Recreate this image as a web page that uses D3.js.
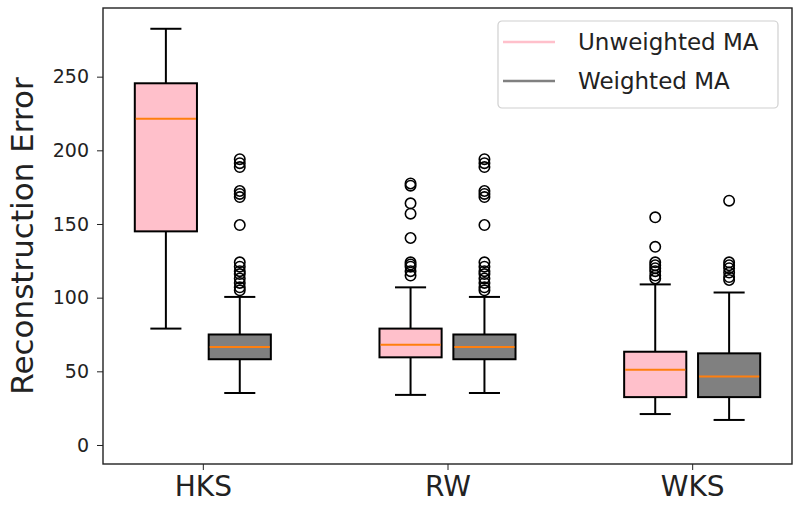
<!DOCTYPE html>
<html>
<head>
<meta charset="utf-8">
<script src="https://cdn.jsdelivr.net/npm/d3@7"></script>
<style>
  body { margin: 0; background: #fff; }
  text { font-family: 'DejaVu Sans', sans-serif; fill: #222; }
</style>
</head>
<body>
<div id="chart"></div>
<script>
const width = 800;
const height = 511;

const categories = ['HKS', 'RW', 'WKS'];
const seriesNames = ['Unweighted MA', 'Weighted MA'];
const seriesColors = ['#ffc0cb', '#808080'];
const yTicks = [0, 50, 100, 150, 200, 250];

// box stats per category: [whiskerLow, q1, median, q3, whiskerHigh]
const unweightedStats = [
  [79, 145, 221.5, 245.5, 282.5],
  [34, 59.5, 68, 79, 107],
  [21, 32.5, 51, 63.3, 109],
];
const weightedStats = [
  [35.3, 58.2, 66.5, 75, 100.5],
  [35.3, 58.2, 66.5, 75, 100.5],
  [17, 32.5, 46.5, 62.2, 103.5],
];
const unweightedOutliers = [
  [],
  [177.5, 176, 164, 157, 140.5, 124, 122.5, 121, 118, 115],
  [154.5, 134.5, 124, 122, 120, 118, 115, 113],
];
const weightedOutliers = [
  [194, 191.3, 188.6, 172.4, 170.4, 168.3, 149.3, 124, 121, 118, 116, 113, 110, 107, 105],
  [194, 191.3, 188.6, 172.4, 170.4, 168.3, 149.3, 124, 121, 118, 116, 113, 110, 107, 105],
  [165.8, 124, 122, 120, 117, 114, 112],
];

const margin = {top: 8, right: 8, bottom: 47, left: 103};

const x = d3.scaleLinear()
  .domain([0.592, 3.408])
  .range([margin.left, width - margin.right]);
const y = d3.scaleLinear()
  .domain([-12.9, 296.6])
  .range([height - margin.bottom, margin.top]);

const offset = 0.151;
const boxW = x(0.254) - x(0);

const svg = d3.select('#chart').append('svg')
  .attr('width', width)
  .attr('height', height);

const series = [
  {name: seriesNames[0], color: seriesColors[0], stats: unweightedStats, outliers: unweightedOutliers, dx: -offset},
  {name: seriesNames[1], color: seriesColors[1], stats: weightedStats, outliers: weightedOutliers, dx: offset},
];

series.forEach((s)=>{
  const g = svg.append('g');
  categories.forEach((cat, i)=>{
    const [lo, q1, med, q3, hi] = s.stats[i];
    const cx = x(i + 1 + s.dx);
    // whiskers
    g.append('line').attr('x1', cx).attr('x2', cx).attr('y1', y(hi)).attr('y2', y(q3))
      .attr('stroke', '#000').attr('stroke-width', 2);
    g.append('line').attr('x1', cx).attr('x2', cx).attr('y1', y(q1)).attr('y2', y(lo))
      .attr('stroke', '#000').attr('stroke-width', 2);
    [lo, hi].forEach((v)=>{
      g.append('line').attr('x1', cx - boxW / 4).attr('x2', cx + boxW / 4)
        .attr('y1', y(v)).attr('y2', y(v))
        .attr('stroke', '#000').attr('stroke-width', 2);
    });
    g.append('rect')
      .attr('x', cx - boxW / 2).attr('y', y(q3))
      .attr('width', boxW).attr('height', y(q1) - y(q3))
      .attr('fill', s.color).attr('stroke', '#000').attr('stroke-width', 2);
    g.append('line').attr('x1', cx - boxW / 2 + 1).attr('x2', cx + boxW / 2 - 1)
      .attr('y1', y(med)).attr('y2', y(med))
      .attr('stroke', '#ff7f0e').attr('stroke-width', 2);
    g.selectAll(null)
      .data(s.outliers[i])
      .join('circle')
      .attr('cx', cx)
      .attr('cy', (d)=>y(d))
      .attr('r', 5.2)
      .attr('fill', 'none')
      .attr('stroke', '#000')
      .attr('stroke-width', 1.6);
  });
});

// axes
const yAxis = svg.append('g')
  .attr('transform', `translate(${margin.left},0)`)
  .call(d3.axisLeft(y).tickValues(yTicks).tickSize(6).tickPadding(8));
yAxis.select('.domain').remove();
yAxis.selectAll('text').style('font-size', '19px').attr('fill', '#222');
yAxis.selectAll('line').attr('stroke', '#222');

const xAxis = svg.append('g')
  .attr('transform', `translate(0,${height - margin.bottom})`)
  .call(d3.axisBottom(x).tickValues([1, 2, 3]).tickFormat((d)=>categories[d - 1]).tickSize(6).tickPadding(6));
xAxis.select('.domain').remove();
xAxis.selectAll('text').style('font-size', '28px').attr('fill', '#222');
xAxis.selectAll('line').attr('stroke', '#222');

svg.append('rect')
  .attr('x', margin.left).attr('y', margin.top)
  .attr('width', width - margin.left - margin.right)
  .attr('height', height - margin.top - margin.bottom)
  .attr('fill', 'none').attr('stroke', '#222').attr('stroke-width', 1.4);

svg.append('text')
  .attr('transform', `translate(33,${(margin.top + height - margin.bottom) / 2}) rotate(-90)`)
  .attr('text-anchor', 'middle')
  .style('font-size', '31px')
  .text('Reconstruction Error');

// legend
const legend = svg.append('g').attr('transform', 'translate(498,21)');
legend.append('rect')
  .attr('width', 280).attr('height', 87).attr('rx', 4)
  .attr('fill', '#fff').attr('fill-opacity', 0.8)
  .attr('stroke', '#d0d0d0').attr('stroke-width', 1.2);
series.forEach((s, i)=>{
  const ly = 21 + i * 39;
  legend.append('line')
    .attr('x1', 5).attr('x2', 57).attr('y1', ly).attr('y2', ly)
    .attr('stroke', s.color).attr('stroke-width', 2.5);
  legend.append('text')
    .attr('x', 80).attr('y', ly)
    .attr('dy', '0.36em')
    .style('font-size', '23px')
    .text(s.name);
});
</script>
</body>
</html>
